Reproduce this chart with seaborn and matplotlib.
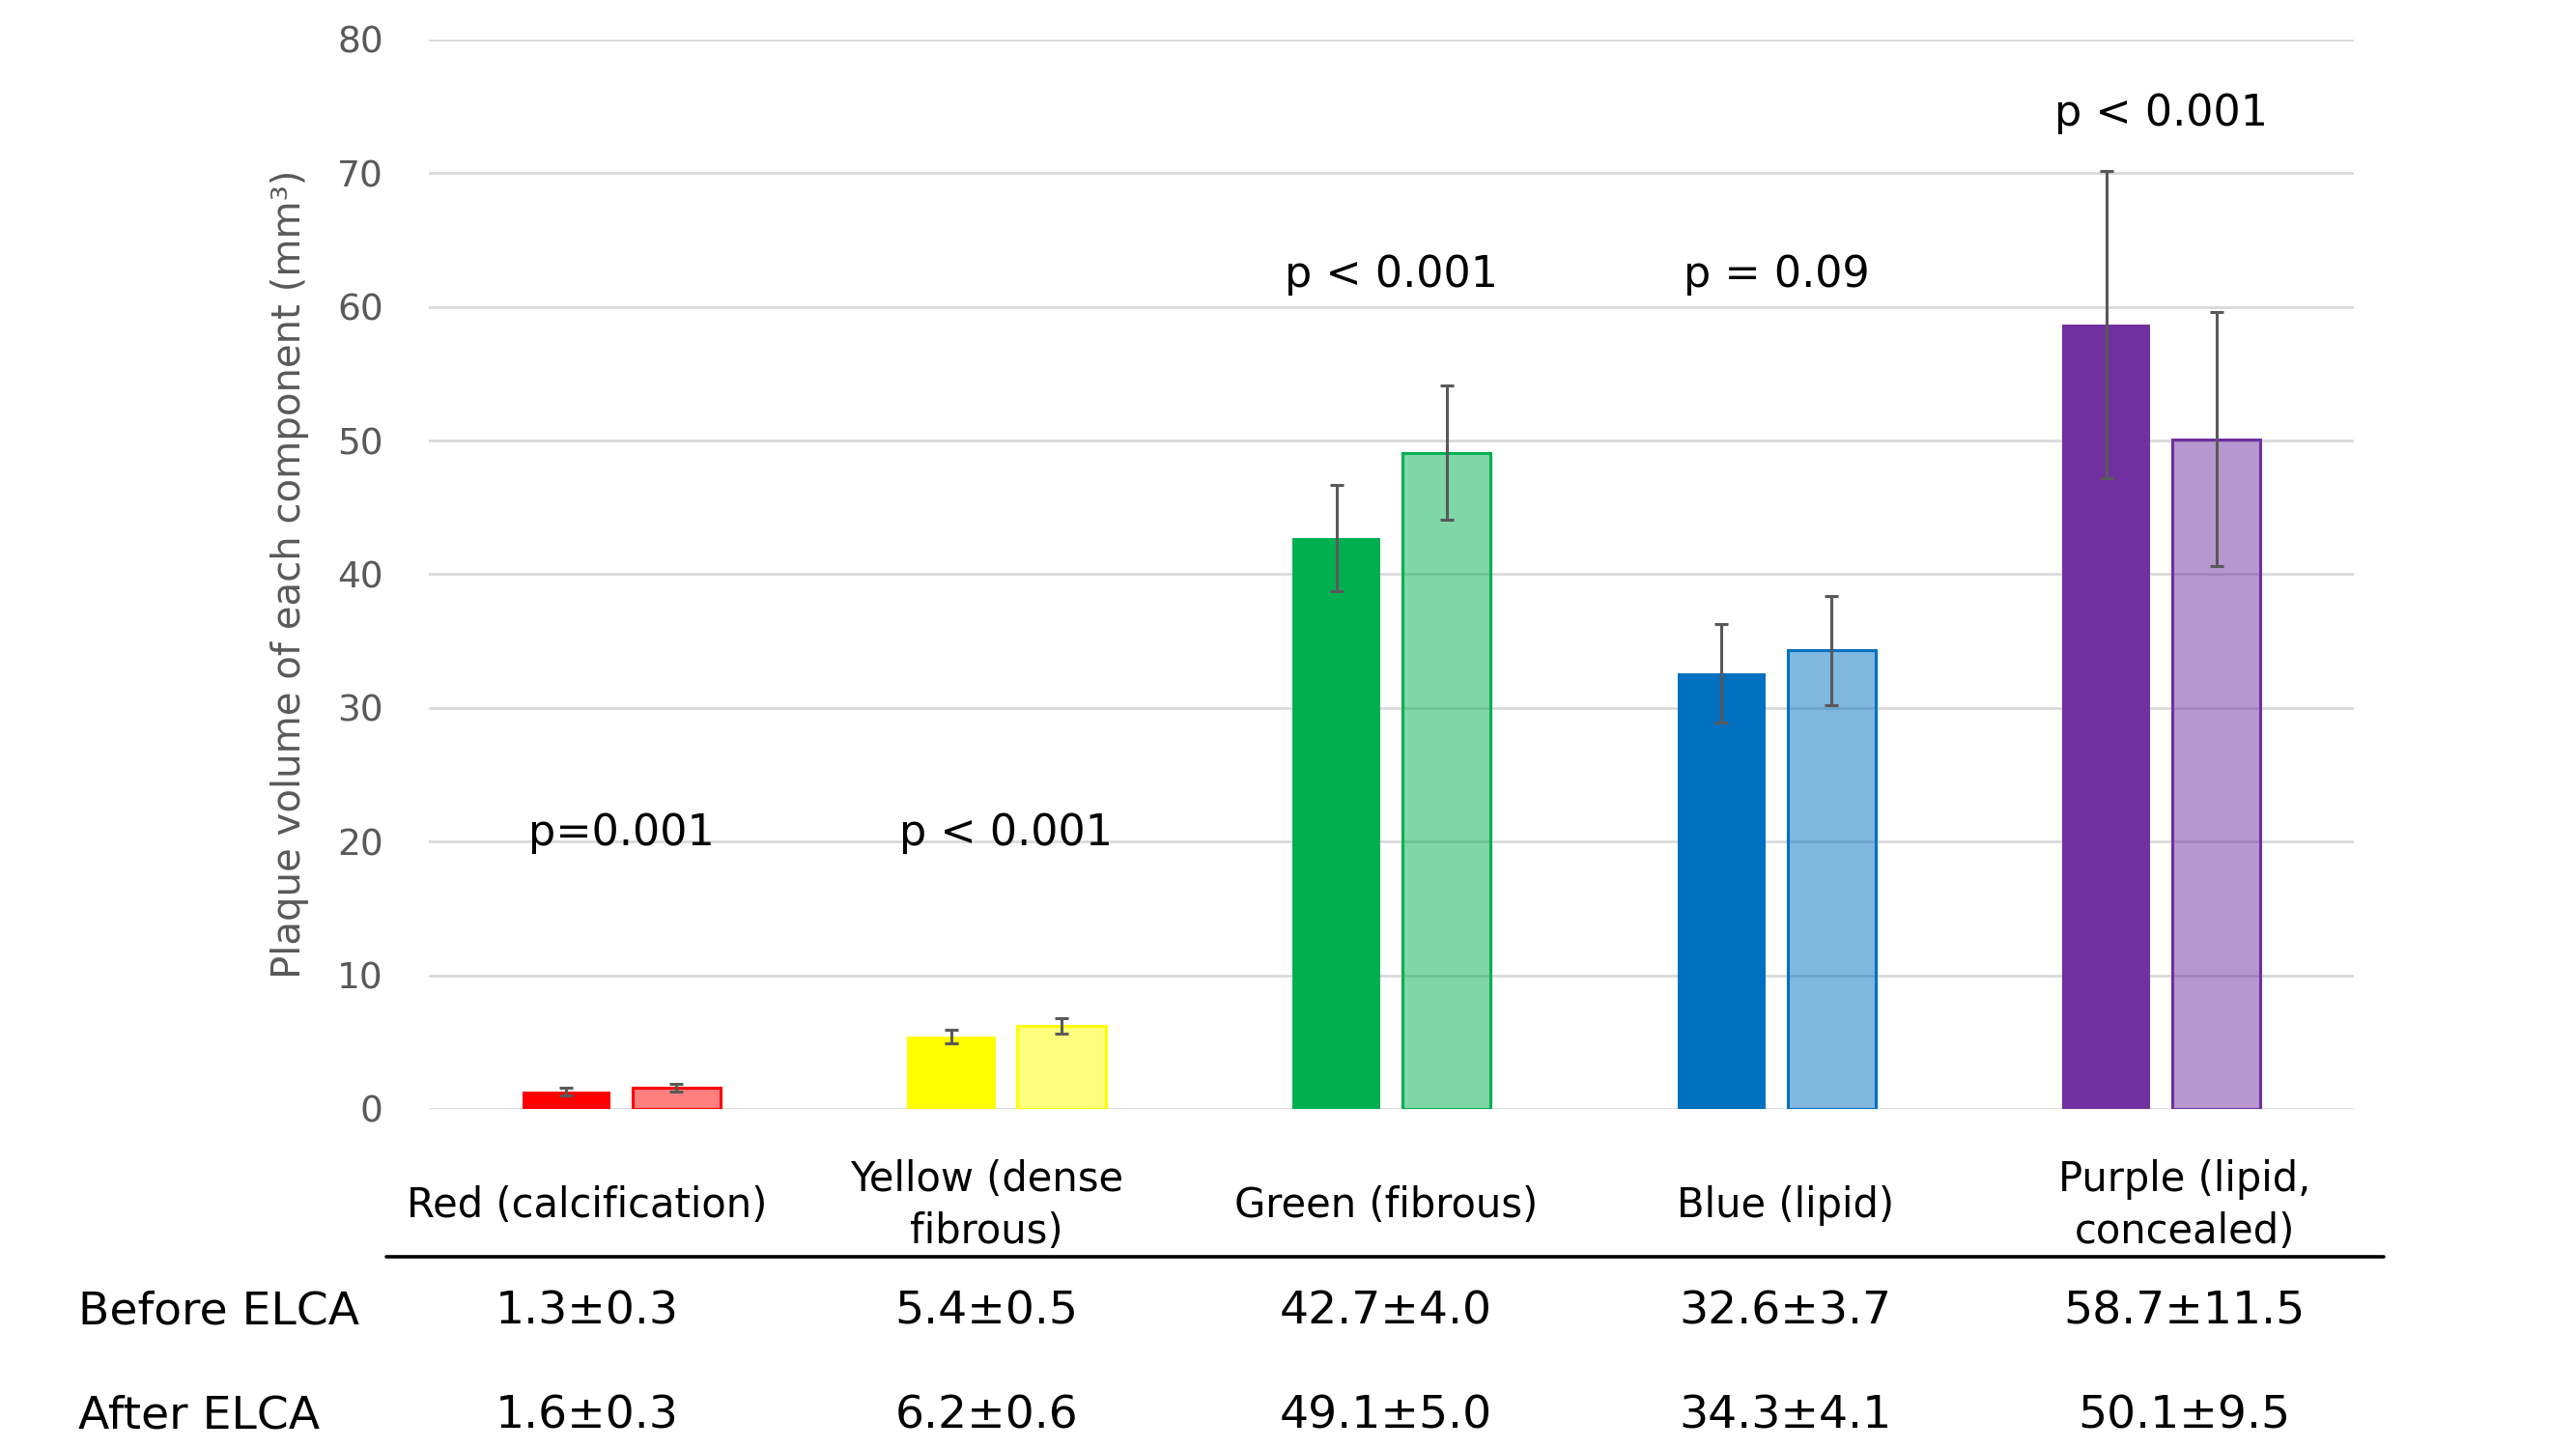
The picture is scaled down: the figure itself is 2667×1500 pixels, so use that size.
import numpy as np
import pandas as pd
import seaborn as sns
from matplotlib import pyplot as plt
from matplotlib.colors import to_rgba
from matplotlib.lines import Line2D

# values (mean, SD)
components = ["Red (calcification)", "Yellow (dense\nfibrous)", "Green (fibrous)",
              "Blue (lipid)", "Purple (lipid,\nconcealed)"]
times = ["Before ELCA", "After ELCA"]
before_mean = [1.3, 5.4, 42.7, 32.6, 58.7]
before_sd = [0.3, 0.5, 4.0, 3.7, 11.5]
after_mean = [1.6, 6.2, 49.1, 34.3, 50.1]
after_sd = [0.3, 0.6, 5.0, 4.1, 9.5]
p_labels = ["p=0.001", "p < 0.001", "p < 0.001", "p = 0.09", "p < 0.001"]
p_height = [20.6, 20.6, 62.4, 62.4, 74.5]

base_colors = ["#FF0000", "#FFFF00", "#00B050", "#0070C0", "#7030A0"]

df = pd.DataFrame({
    "component": components * 2,
    "time": [times[0]] * 5 + [times[1]] * 5,
    "volume": before_mean + after_mean,
})

sns.set_theme(style="white")
plt.rcParams['font.family'] = ['DejaVu Sans']

fig = plt.figure(figsize=(13.335, 7.5), dpi=200)
ax = fig.add_axes([0.1665, 0.2347, 0.7473, 0.738])

sns.barplot(data=df, x="component", y="volume", hue="time", order=components,
            hue_order=times, errorbar=None, width=0.572, gap=0.2, legend=False, ax=ax)

means = [before_mean, after_mean]
sds = [before_sd, after_sd]
centers = [[None] * 5, [None] * 5]
for patch in ax.patches:
    xc = patch.get_x() + patch.get_width() / 2
    j = int(round(xc))
    i = 0 if xc < j else 1
    centers[i][j] = xc
    if i == 0:
        patch.set_facecolor(base_colors[j])
        patch.set_edgecolor(base_colors[j])
        patch.set_linewidth(0)
    else:
        patch.set_facecolor(to_rgba(base_colors[j], 0.5))
        patch.set_edgecolor(base_colors[j])
        patch.set_linewidth(1.1)

for i in range(2):
    ax.errorbar(centers[i], means[i], yerr=sds[i], fmt='none', ecolor='#595959',
                elinewidth=1.1, capsize=2.6, capthick=1.1, zorder=3)

for k in range(len(components)):
    ax.text(k, p_height[k], p_labels[k], ha='center', va='center', fontsize=16, color='black')

ax.set_ylim(0, 80)
ax.set_xlim(-0.5, 4.5)
ax.set_yticks(range(0, 81, 10))
ax.set_axisbelow(True)
ax.yaxis.grid(True, color='#D9D9D9', linewidth=1.0)
ax.xaxis.grid(False)
for s in ax.spines.values():
    s.set_visible(False)
ax.tick_params(axis='y', length=0, pad=17, labelsize=13.5, labelcolor='#595959')
ax.tick_params(axis='x', length=0, labelbottom=False)
ax.set_xlabel('')
ax.set_ylabel('Plaque volume of each component (mm³)', fontsize=14.5, color='#595959')
ax.yaxis.set_label_coords(-0.062, 0.5)

# table under the chart
col_x = [0.228 + 0.155 * i for i in range(5)]
for k, name in enumerate(components):
    fig.text(col_x[k], 0.168, name, ha='center', va='center', fontsize=15,
             linespacing=1.35, color='black')
fig.add_artist(Line2D([0.150, 0.9254], [0.1327, 0.1327], color='black', lw=1.3,
                      transform=fig.transFigure))
row_y = [0.0945, 0.0225]
for r in range(2):
    fig.text(0.0304, row_y[r], times[r], ha='left', va='center', fontsize=17, color='black')
    for k in range(5):
        fig.text(col_x[k], row_y[r], f"{means[r][k]:.1f}±{sds[r][k]:.1f}",
                 ha='center', va='center', fontsize=17, color='black')

fig.savefig('out.png', dpi=200)
